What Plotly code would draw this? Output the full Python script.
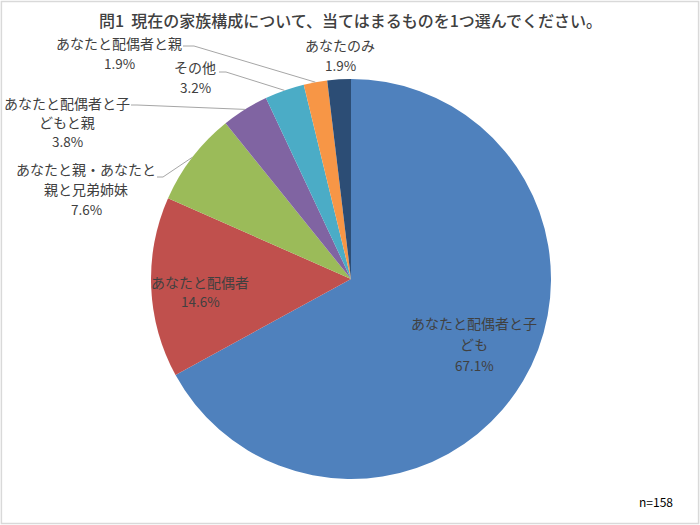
import math
import plotly.graph_objects as go

# chart data
labels = ["あなたと配偶者と子ども", "あなたと配偶者", "あなたと親・あなたと親と兄弟姉妹",
          "あなたと配偶者と子どもと親", "その他", "あなたと配偶者と親", "あなたのみ"]
values = [67.1, 14.6, 7.6, 3.8, 3.2, 1.9, 1.9]
label_lines = [["あなたと配偶者と子", "ども"], ["あなたと配偶者"], ["あなたと親・あなたと", "親と兄弟姉妹"],
               ["あなたと配偶者と子", "どもと親"], ["その他"], ["あなたと配偶者と親"], ["あなたのみ"]]
title_text = "問1  現在の家族構成について、当てはまるものを1つ選んでください。"
note_text = "n=158"

colors = ["#4F81BD", "#C0504D", "#9BBB59", "#8064A2", "#4BACC6", "#F79646", "#2C4D75"]

W, H = 700, 525
cx, cy, R = 351, 279, 200

# label layout: centre of the first text line, line gap (pixels)
label_pos = [(474, 323), (200, 282), (86, 169), (67, 103), (195, 67), (119, 43), (340, 45)]
line_gap = [21, 19, 20, 19, 20, 20, 20]
# leader line start (text side) and elbow; None = no leader
leader_start = [None, None, (157, 177), (131, 105), (219, 72), (183, 46), None]
leader_elbow = [None, None, (163, 177), (137, 105), (226, 72), (194, 46), None]


def px(x):
    return x / W


def py(y):
    return 1 - y / H


fig = go.Figure(go.Pie(
    labels=labels,
    values=values,
    sort=False,
    direction="clockwise",
    rotation=0,
    marker=dict(colors=colors, line=dict(width=0)),
    textinfo="none",
    hoverinfo="label+percent",
    showlegend=False,
    domain=dict(x=[px(cx - R), px(cx + R)], y=[py(cy + R), py(cy - R)]),
))

annotations = []
shapes = []
total = sum(values)
cum = 0
for i, v in enumerate(values):
    mid = (cum + v / 2) / total * 2 * math.pi
    cum += v
    lx, ly = label_pos[i]
    for k, t in enumerate(label_lines[i]):
        annotations.append(dict(x=px(lx), y=py(ly + k * line_gap[i]), xref="paper", yref="paper",
                                text=t, showarrow=False, xanchor="center", yanchor="middle",
                                font=dict(size=14, color="#404040")))
    annotations.append(dict(x=px(lx), y=py(ly + len(label_lines[i]) * line_gap[i]),
                            xref="paper", yref="paper", text=f"{v:.1f}%", showarrow=False,
                            xanchor="center", yanchor="middle",
                            font=dict(size=13.5, color="#404040")))
    if leader_start[i] is not None:
        ex = cx + R * math.sin(mid)
        ey = cy - R * math.cos(mid)
        (sx, sy), (bx, by) = leader_start[i], leader_elbow[i]
        path = f"M {px(sx)},{py(sy)} L {px(bx)},{py(by)} L {px(ex)},{py(ey)}"
        shapes.append(dict(type="path", path=path, xref="paper", yref="paper",
                           line=dict(color="#A6A6A6", width=1)))

annotations.append(dict(x=px(350), y=py(20), xref="paper", yref="paper", text=title_text,
                        showarrow=False, xanchor="center", yanchor="middle",
                        font=dict(size=16, color="#404040", weight=500)))
annotations.append(dict(x=px(656), y=py(501), xref="paper", yref="paper", text=note_text,
                        showarrow=False, xanchor="center", yanchor="middle",
                        font=dict(size=12, color="#000000")))

shapes.append(dict(type="rect", xref="paper", yref="paper", x0=0.002, y0=0.003, x1=0.998, y1=0.997,
                   line=dict(color="#D9D9D9", width=1.5)))

fig.update_layout(
    width=W, height=H,
    margin=dict(l=0, r=0, t=0, b=0),
    paper_bgcolor="white",
    font=dict(family="Noto Sans CJK JP, Noto Sans, sans-serif"),
    annotations=annotations,
    shapes=shapes,
)

# drop the page's default body margin so the figure sits at the window's corner
fig.write_html("out.html", config={"displayModeBar": False},
               post_script="document.body.style.margin='0';")
